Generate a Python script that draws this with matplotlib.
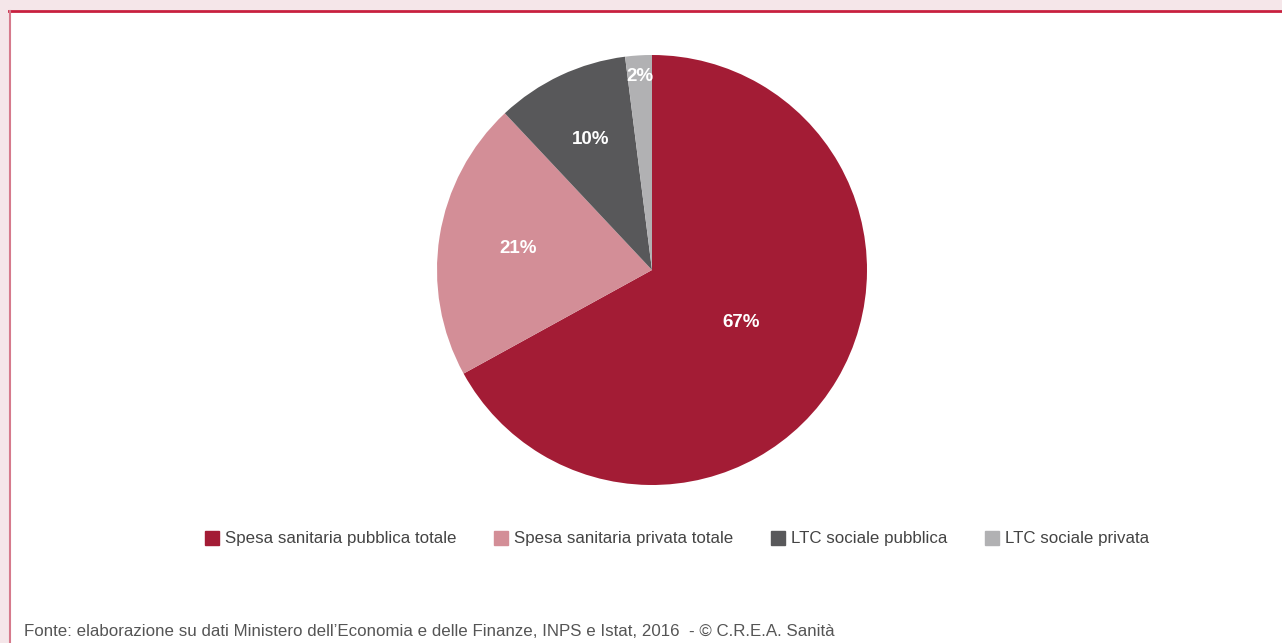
import matplotlib
matplotlib.use("Agg")
import matplotlib.pyplot as plt
from matplotlib.lines import Line2D
from matplotlib.patches import Rectangle
import numpy as np

plt.rcParams['font.family'] = ['Liberation Sans', 'DejaVu Sans']

# Data
categories = ['Spesa sanitaria pubblica totale', 'Spesa sanitaria privata totale',
              'LTC sociale pubblica', 'LTC sociale privata']
shares = [67, 21, 10, 2]
colors = ['#A31C35', '#D38E97', '#58585A', '#B1B1B3']
label_dist = [0.48, 0.63, 0.67, 0.90]
source = "Fonte: elaborazione su dati Ministero dell\u2019Economia e delle Finanze, INPS e Istat, 2016  - \u00a9 C.R.E.A. Sanit\u00e0"

W, H = 1282, 643
fig = plt.figure(figsize=(W / 100, H / 100), dpi=100)
fig.patch.set_facecolor('white')

# Frame: pink band on top/left with a red rule
fig.patches.append(Rectangle((0, 1 - 10 / H), 1, 10 / H, transform=fig.transFigure,
                             facecolor='#F5E6E9', edgecolor='none', zorder=0))
fig.patches.append(Rectangle((0, 0), 9 / W, 1, transform=fig.transFigure,
                             facecolor='#F5E6E9', edgecolor='none', zorder=0))
fig.add_artist(Line2D([9 / W, 1], [1 - 11 / H, 1 - 11 / H], transform=fig.transFigure,
                      color='#C8203F', lw=2))
fig.add_artist(Line2D([10 / W, 10 / W], [0, 1 - 11 / H], transform=fig.transFigure,
                      color='#D67A8C', lw=1.5))

# Pie
cx, cy, r = 652, 270, 215
ax = fig.add_axes([(cx - r) / W, (H - cy - r) / H, 2 * r / W, 2 * r / H])
wedges, _ = ax.pie(shares, colors=colors, startangle=90, counterclock=False,
                   radius=1, wedgeprops=dict(linewidth=0))
for w, d, v in zip(wedges, label_dist, shares):
    ang = np.deg2rad((w.theta1 + w.theta2) / 2)
    ax.text(d * np.cos(ang), d * np.sin(ang), f"{v}%", ha='center', va='center',
            color='white', fontsize=13.5, fontweight='bold')
ax.set_xlim(-1, 1)
ax.set_ylim(-1, 1)
ax.set_aspect('equal')
ax.axis('off')

# Legend
handles = [Line2D([0], [0], marker='s', linestyle='none', markersize=10.5,
                  markerfacecolor=c, markeredgecolor=c) for c in colors]
fig.legend(handles, categories, loc='center', bbox_to_anchor=(677 / W, 1 - 539 / H),
           ncol=4, frameon=False, fontsize=12.2, handlelength=0.8, handletextpad=0.4,
           columnspacing=2.2, labelcolor='#444444')

fig.text(24 / W, 1 - 632 / H, source, ha='left', va='center', fontsize=12.2, color='#555555')

fig.savefig('out.png', dpi=100)
